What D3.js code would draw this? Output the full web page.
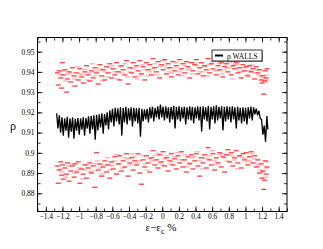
<!DOCTYPE html>
<meta charset="utf-8">
<style>
  body { margin: 0; background: #fff; }
  text { font-family: "Liberation Serif", "DejaVu Serif", serif; }
</style>
<body>
<script src="https://d3js.org/d3.v7.min.js"></script>
<script>
// wall density (black line)
let rhoX = [
  -1.270,-1.254,-1.238,-1.222,-1.206,-1.190,-1.174,-1.158,-1.142,-1.126,
  -1.110,-1.094,-1.078,-1.062,-1.046,-1.030,-1.014,-0.998,-0.982,-0.966,
  -0.950,-0.934,-0.918,-0.902,-0.886,-0.870,-0.854,-0.838,-0.822,-0.806,
  -0.790,-0.774,-0.758,-0.742,-0.726,-0.710,-0.694,-0.678,-0.662,-0.646,
  -0.630,-0.614,-0.598,-0.582,-0.566,-0.550,-0.534,-0.518,-0.502,-0.486,
  -0.470,-0.454,-0.438,-0.422,-0.406,-0.390,-0.374,-0.358,-0.342,-0.326,
  -0.310,-0.294,-0.278,-0.262,-0.246,-0.230,-0.214,-0.198,-0.182,-0.166,
  -0.150,-0.134,-0.118,-0.102,-0.086,-0.070,-0.054,-0.038,-0.022,-0.006,
  0.010,0.026,0.042,0.058,0.074,0.090,0.106,0.122,0.138,0.154,
  0.170,0.186,0.202,0.218,0.234,0.250,0.266,0.282,0.298,0.314,
  0.330,0.346,0.362,0.378,0.394,0.410,0.426,0.442,0.458,0.474,
  0.490,0.506,0.522,0.538,0.554,0.570,0.586,0.602,0.618,0.634,
  0.650,0.666,0.682,0.698,0.714,0.730,0.746,0.762,0.778,0.794,
  0.810,0.826,0.842,0.858,0.874,0.890,0.906,0.922,0.938,0.954,
  0.970,0.986,1.002,1.018,1.034,1.050,1.066,1.082,1.098,1.114,
  1.130,1.146,1.162,1.178,1.194,1.210,1.226,1.242,1.258,1.270
];
let rhoY = [
  0.9195,0.9120,0.9185,0.9100,0.9175,0.9085,0.9170,0.9110,0.9178,0.9075,
  0.9170,0.9105,0.9175,0.9070,0.9168,0.9110,0.9172,0.9090,0.9170,0.9115,
  0.9175,0.9085,0.9172,0.9120,0.9180,0.9095,0.9182,0.9115,0.9185,0.9065,
  0.9188,0.9110,0.9190,0.9125,0.9195,0.9095,0.9192,0.9135,0.9200,0.9115,
  0.9210,0.9150,0.9218,0.9130,0.9222,0.9155,0.9220,0.9140,0.9225,0.9085,
  0.9222,0.9150,0.9228,0.9140,0.9220,0.9160,0.9225,0.9130,0.9222,0.9155,
  0.9220,0.9145,0.9222,0.9080,0.9218,0.9155,0.9215,0.9165,0.9218,0.9150,
  0.9225,0.9170,0.9228,0.9155,0.9222,0.9175,0.9230,0.9165,0.9238,0.9175,
  0.9228,0.9160,0.9230,0.9170,0.9225,0.9150,0.9228,0.9165,0.9232,0.9120,
  0.9228,0.9165,0.9230,0.9155,0.9225,0.9170,0.9228,0.9140,0.9225,0.9165,
  0.9230,0.9160,0.9228,0.9145,0.9225,0.9170,0.9230,0.9160,0.9228,0.9105,
  0.9230,0.9165,0.9225,0.9155,0.9232,0.9115,0.9228,0.9165,0.9230,0.9145,
  0.9235,0.9160,0.9228,0.9170,0.9230,0.9110,0.9228,0.9155,0.9230,0.9165,
  0.9228,0.9150,0.9230,0.9165,0.9225,0.9120,0.9228,0.9160,0.9222,0.9145,
  0.9225,0.9155,0.9222,0.9140,0.9225,0.9170,0.9228,0.9160,0.9225,0.9190,
  0.9218,0.9185,0.9208,0.9170,0.9165,0.9090,0.9135,0.9055,0.9182,0.9115
];

// upper band (red dashes)
let hiX = [
  -1.26,-1.25,-1.24,-1.22,-1.21,-1.20,-1.19,-1.17,-1.15,-1.14,-1.12,-1.10,-1.08,-1.06,-1.05,-1.03,-1.01,-0.99,-0.97,-0.95,
  -0.93,-0.91,-0.89,-0.87,-0.85,-0.83,-0.81,-0.79,-0.77,-0.75,-0.73,-0.71,-0.69,-0.67,-0.65,-0.63,-0.61,-0.59,-0.57,-0.55,
  -0.53,-0.51,-0.49,-0.47,-0.45,-0.43,-0.41,-0.39,-0.37,-0.35,-0.33,-0.31,-0.29,-0.27,-0.25,-0.23,-0.21,-0.19,-0.17,-0.15,
  -0.13,-0.11,-0.09,-0.07,-0.05,-0.03,-0.01,0.01,0.03,0.05,0.07,0.09,0.11,0.13,0.15,0.17,0.19,0.21,0.23,0.25,
  0.27,0.29,0.31,0.33,0.35,0.37,0.39,0.41,0.43,0.45,0.47,0.49,0.51,0.53,0.55,0.57,0.59,0.61,0.63,0.65,
  0.67,0.69,0.71,0.73,0.75,0.77,0.79,0.81,0.83,0.85,0.87,0.89,0.91,0.93,0.95,0.97,0.99,1.01,1.03,1.05,
  1.07,1.09,1.11,1.13,1.15,1.17,1.19,1.20,1.21,1.22,1.23,1.24,1.25,1.26
];
let hiY = [
  0.9395,0.9335,0.9405,0.9370,0.9320,0.9445,0.9385,0.9410,0.9300,0.9365,0.9400,0.9350,0.9420,0.9380,0.9330,0.9395,0.9360,0.9415,0.9375,0.9345,
  0.9400,0.9430,0.9385,0.9355,0.9405,0.9370,0.9420,0.9395,0.9340,0.9435,0.9380,0.9410,0.9360,0.9425,0.9395,0.9440,0.9370,0.9415,0.9385,0.9445,
  0.9400,0.9360,0.9430,0.9410,0.9385,0.9455,0.9340,0.9420,0.9395,0.9445,0.9375,0.9430,0.9405,0.9455,0.9390,0.9425,0.9360,0.9445,0.9410,0.9435,
  0.9385,0.9465,0.9420,0.9400,0.9450,0.9370,0.9435,0.9410,0.9460,0.9390,0.9440,0.9420,0.9375,0.9450,0.9405,0.9430,0.9385,0.9460,0.9415,0.9440,
  0.9395,0.9450,0.9425,0.9370,0.9445,0.9405,0.9435,0.9460,0.9390,0.9420,0.9445,0.9380,0.9430,0.9410,0.9465,0.9395,0.9440,0.9415,0.9455,0.9385,
  0.9430,0.9410,0.9445,0.9375,0.9425,0.9440,0.9400,0.9450,0.9385,0.9430,0.9415,0.9445,0.9395,0.9420,0.9370,0.9435,0.9405,0.9425,0.9380,0.9430,
  0.9400,0.9415,0.9365,0.9425,0.9395,0.9410,0.9360,0.9345,0.9380,0.9290,0.9355,0.9405,0.9370,0.9415
];
let hiLightX = [
  -1.23,-1.16,-1.09,-1.02,-0.96,-0.90,-0.84,-0.78,-0.72,-0.66,-0.60,-0.54,-0.48,-0.42,-0.36,-0.30,-0.24,-0.18,-0.12,-0.06,
  0.00,0.06,0.12,0.18,0.24,0.30,0.36,0.42,0.48,0.54,0.60,0.66,0.72,0.78,0.84,0.90,0.96,1.02,1.08,1.14,1.18,1.24,1.26,
  -1.20,-1.13,-1.06,-0.99,-0.93,-0.87,-0.81,-0.75,-0.69,-0.63,-0.57,-0.51,-0.45,-0.39,-0.33,-0.27,-0.21,-0.15,-0.09,-0.03,
  0.03,0.09,0.15,0.21,0.27,0.33,0.39,0.45,0.51,0.57,0.63,0.69,0.75,0.81,0.87,0.93,0.99,1.05,1.11,1.16,1.21,1.25
];
let hiLightY = [
  0.9385,0.9355,0.9395,0.9425,0.9385,0.9360,0.9440,0.9405,0.9355,0.9375,0.9430,0.9365,0.9395,0.9375,0.9415,0.9365,0.9435,0.9380,0.9415,0.9385,
  0.9455,0.9420,0.9395,0.9445,0.9380,0.9410,0.9390,0.9430,0.9400,0.9380,0.9450,0.9405,0.9390,0.9420,0.9365,0.9435,0.9400,0.9385,0.9435,0.9410,0.9380,0.9350,0.9360,
  0.9405,0.9390,0.9365,0.9390,0.9410,0.9395,0.9380,0.9415,0.9400,0.9420,0.9400,0.9425,0.9440,0.9400,0.9420,0.9380,0.9410,0.9400,0.9440,0.9425,
  0.9430,0.9400,0.9420,0.9400,0.9430,0.9415,0.9445,0.9400,0.9425,0.9435,0.9405,0.9440,0.9410,0.9420,0.9435,0.9400,0.9420,0.9405,0.9395,0.9385,0.9370,0.9385
];

// lower band (red dashes)
let loX = hiX;
let loY = [
  0.8935,0.8850,0.8915,0.8955,0.8890,0.8940,0.8870,0.8925,0.8895,0.8950,0.8860,0.8910,0.8935,0.8880,0.8945,0.8905,0.8955,0.8850,0.8920,0.8895,
  0.8940,0.8875,0.8925,0.8950,0.8900,0.8935,0.8830,0.9000,0.8915,0.8945,0.8885,0.8930,0.8960,0.8905,0.8940,0.8875,0.8955,0.8920,0.8980,0.8895,
  0.8945,0.8985,0.8910,0.8960,0.8930,0.8995,0.8885,0.8950,0.8975,0.8915,0.8960,0.8940,0.8995,0.8900,0.8845,0.8965,0.8930,0.8985,0.8950,0.8905,
  0.8975,0.9010,0.8940,0.8965,0.8925,0.8990,0.8955,0.9005,0.8935,0.8975,0.8910,0.8960,0.8995,0.8940,0.8970,0.8920,0.8985,0.8950,0.9005,0.8930,
  0.8965,0.8905,0.8980,0.8945,0.8990,0.8920,0.8960,0.8995,0.8935,0.8885,0.8975,0.8950,0.8990,0.8925,0.9025,0.8965,0.8940,0.8995,0.8915,0.8975,
  0.8950,0.9000,0.8930,0.8980,0.8905,0.8990,0.9015,0.8955,0.9000,0.8935,0.8975,0.9010,0.8950,0.8985,0.8925,0.8995,0.8965,0.9000,0.8940,0.8980,
  0.9005,0.8950,0.8985,0.8930,0.8965,0.8900,0.8945,0.8875,0.8910,0.8820,0.8865,0.8960,0.8895,0.8930
];
let loLightX = hiLightX;
let loLightY = [
  0.8920,0.8880,0.8945,0.8915,0.8870,0.8940,0.8910,0.8960,0.8895,0.8975,0.8935,0.8990,0.8925,0.8970,0.8995,0.8950,0.8985,0.8915,0.8960,0.8995,
  0.8940,0.8985,0.8955,0.9000,0.8965,0.8930,0.8975,0.9005,0.8920,0.8970,0.9010,0.8940,0.8995,0.8960,0.8985,0.8920,0.8975,0.8955,0.8995,0.8945,0.8915,0.8880,0.8955,
  0.8905,0.8935,0.8900,0.8925,0.8915,0.8905,0.8945,0.8925,0.8940,0.8915,0.8960,0.8945,0.8975,0.8940,0.8980,0.8960,0.8945,0.8970,0.8985,0.8950,
  0.8970,0.8945,0.8980,0.8965,0.8990,0.8950,0.8980,0.8960,0.8975,0.8985,0.8960,0.8990,0.8975,0.8990,0.8965,0.8985,0.8975,0.8960,0.8970,0.8935,0.8905,0.8925
];

let xTicks = [-1.4,-1.2,-1,-0.8,-0.6,-0.4,-0.2,0,0.2,0.4,0.6,0.8,1,1.2,1.4];
let yTicks = [0.88,0.89,0.9,0.91,0.92,0.93,0.94,0.95];

let width = 323, height = 249;
let mLeft = 37.5, mRight = 287, mTop = 37.5, mBottom = 211.5;

let svg = d3.select("body").append("svg")
    .attr("width", width)
    .attr("height", height);

let x = d3.scaleLinear().domain([-1.5, 1.5]).range([mLeft, mRight]);
let y = d3.scaleLinear().domain([0.871, 0.957]).range([mBottom, mTop]);

let minorX = d3.range(-15, 16).map(d => d / 10);
let minorY = d3.range(871, 958).filter(d => d % 5 == 0).map(d => d / 1000);

// axes, ticks inward like the original
function styleAxis(g) {
    g.select(".domain").remove();
    g.selectAll("line").attr("stroke", "#000").attr("stroke-width", 0.8);
    g.selectAll("text").style("font-family", "'Liberation Serif', serif").style("font-size", "7.5px").attr("fill", "#000");
}

svg.append("g").attr("transform", `translate(0,${mBottom})`)
    .call(d3.axisBottom(x).tickValues(minorX).tickSize(-3).tickFormat(""))
    .call(styleAxis);
svg.append("g").attr("transform", `translate(0,${mBottom})`)
    .call(d3.axisBottom(x).tickValues(xTicks).tickSize(-5).tickPadding(2).tickFormat(d3.format("")))
    .call(styleAxis);
svg.append("g").attr("transform", `translate(0,${mTop})`)
    .call(d3.axisTop(x).tickValues(minorX).tickSize(-3).tickFormat(""))
    .call(styleAxis);
svg.append("g").attr("transform", `translate(0,${mTop})`)
    .call(d3.axisTop(x).tickValues(xTicks).tickSize(-5).tickFormat(""))
    .call(styleAxis);

svg.append("g").attr("transform", `translate(${mLeft},0)`)
    .call(d3.axisLeft(y).tickValues(minorY).tickSize(-3).tickFormat(""))
    .call(styleAxis);
svg.append("g").attr("transform", `translate(${mLeft},0)`)
    .call(d3.axisLeft(y).tickValues(yTicks).tickSize(-5).tickPadding(3).tickFormat(d3.format("")))
    .call(styleAxis);
svg.append("g").attr("transform", `translate(${mRight},0)`)
    .call(d3.axisRight(y).tickValues(minorY).tickSize(-3).tickFormat(""))
    .call(styleAxis);
svg.append("g").attr("transform", `translate(${mRight},0)`)
    .call(d3.axisRight(y).tickValues(yTicks).tickSize(-5).tickFormat(""))
    .call(styleAxis);

// frame
svg.append("rect")
    .attr("x", mLeft).attr("y", mTop)
    .attr("width", mRight - mLeft).attr("height", mBottom - mTop)
    .attr("fill", "none").attr("stroke", "#000").attr("stroke-width", 1);

// red dashes
function dashes(xs, ys, color) {
    svg.append("g").selectAll("line")
        .data(xs.map((d, i) => [d, ys[i]]))
        .join("line")
        .attr("x1", d => x(d[0]) - 2.5)
        .attr("x2", d => x(d[0]) + 2.5)
        .attr("y1", d => y(d[1]))
        .attr("y2", d => y(d[1]))
        .attr("stroke", color)
        .attr("stroke-width", 1);
}
dashes(hiLightX, hiLightY, "#ff9a9a");
dashes(loLightX, loLightY, "#ff9a9a");
dashes(hiX, hiY, "#ff0000");
dashes(loX, loY, "#ff0000");

// black line
let line = d3.line().x(d => x(d[0])).y(d => y(d[1]));
svg.append("path")
    .datum(rhoX.map((d, i) => [d, rhoY[i]]))
    .attr("d", line)
    .attr("fill", "none")
    .attr("stroke", "#000")
    .attr("stroke-width", 1.3);

// legend
svg.append("rect").attr("x", 213).attr("y", 51).attr("width", 50).attr("height", 11).attr("fill", "#999");
svg.append("rect").attr("x", 212).attr("y", 50).attr("width", 50).attr("height", 11)
    .attr("fill", "#fff").attr("stroke", "#000").attr("stroke-width", 0.8);
svg.append("line").attr("x1", 215).attr("x2", 223).attr("y1", 55.5).attr("y2", 55.5)
    .attr("stroke", "#000").attr("stroke-width", 2);
svg.append("text").attr("x", 227).attr("y", 58.5)
    .style("font-size", "7.5px").text("ρ WALLS");

// axis titles
let xt = svg.append("text").attr("x", 161).attr("y", 231)
    .attr("text-anchor", "middle").style("font-size", "11px");
xt.append("tspan").text("ε−ε");
xt.append("tspan").attr("dy", 3).style("font-size", "8px").text("c");
xt.append("tspan").attr("dy", -3).text(" %");

svg.append("text").attr("x", 13).attr("y", 130)
    .attr("text-anchor", "middle").style("font-size", "12px").text("ρ");
</script>
</body>
